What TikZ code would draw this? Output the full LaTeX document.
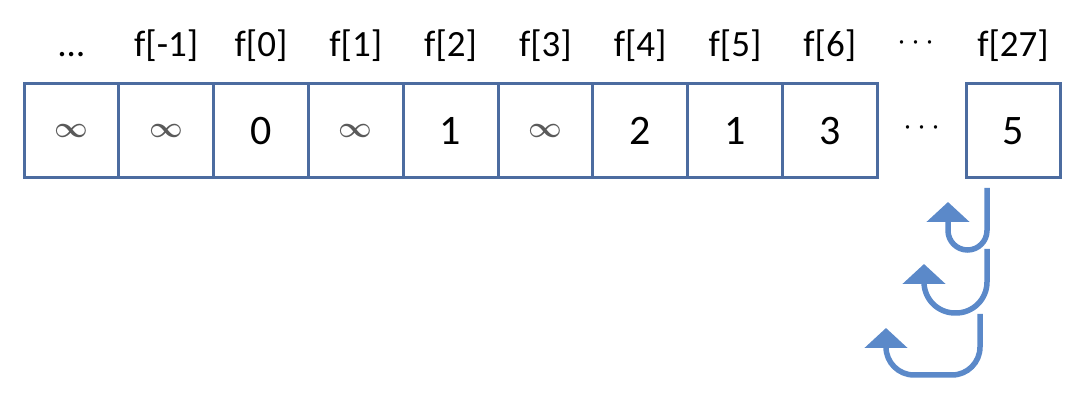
\documentclass[tikz,border=0pt]{standalone}
\usepackage{fontspec}
\setmainfont{Carlito}
\usetikzlibrary{arrows.meta,positioning}
\definecolor{boxblue}{RGB}{76,108,160}
\definecolor{arrowblue}{RGB}{91,137,201}
\definecolor{infgray}{RGB}{90,90,90}
\newcommand{\infsym}{\textcolor{infgray}{\scalebox{1.18}{\fontsize{24}{26}\selectfont\boldmath$\infty$}}}
\newcommand{\bigdots}{\scalebox{1.3}{\fontsize{24}{26}\selectfont$\cdots$}}

\begin{document}
\begin{tikzpicture}[x=1pt, y=-1pt,
  cell/.style={draw=boxblue, line width=3pt, minimum width=94.8pt, minimum height=94pt, inner sep=0pt, font=\fontsize{42}{44}\selectfont},
  idx/.style={anchor=base, font=\fontsize{37}{40}\selectfont},
  hook/.style={draw=arrowblue, line width=5.5pt, -{Triangle[width=42pt,length=20pt]}}]
\useasboundingbox (0,0) rectangle (1080,403);
% Draw cells
\foreach \val [count=\i] in {\infsym,\infsym,0,\infsym,1,\infsym,2,1,3}
    \node[cell] (c\i) at ({71.4+94.8*(\i-1)},131) {\val};
\node[cell, minimum width=94pt] (c27) at (1013,131) {5};
\node (gap) at (922,128) {\bigdots};
% Draw index labels
\node[idx] (l1) at (71.4,57) {\ldots};
\foreach \lab [count=\i from 2] in {-1,0,1,2,3,4,5,6}
    \node[idx] (l\i) at ({71.4+94.8*(\i-1)},57) {f[\lab]};
\node (lgap) at (916,43) {\bigdots};
\node[idx] (l27) at (1013,57) {f[27]};
% Draw hook arrows
\coordinate (h1s) at (987,188);
\coordinate (h1e) at (948,202);
\coordinate (h2s) at (987,249);
\coordinate (h2e) at (924,264);
\coordinate (h3s) at (980,314);
\coordinate (h3e) at (886,328);
\draw[hook, rounded corners=19.5pt] (h1s) -- ++(0,62) -| (h1e);
\draw[hook, rounded corners=31pt] (h2s) -- ++(0,64) -| (h2e);
\draw[hook, rounded corners=28pt] (h3s) -- ++(0,61) -| (h3e);
\end{tikzpicture}
\end{document}
